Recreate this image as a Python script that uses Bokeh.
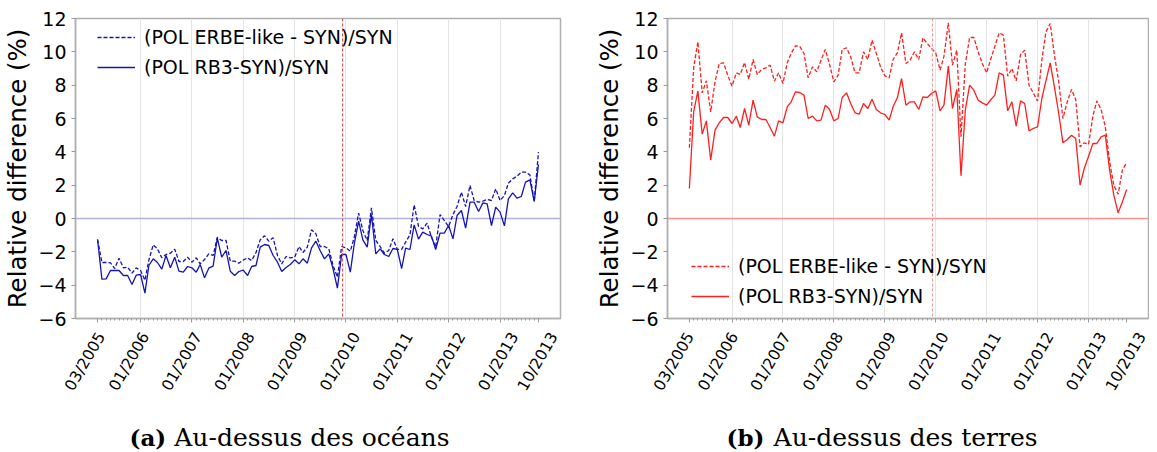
import math
import pandas as pd
from bokeh.plotting import figure
from bokeh.models import (ColumnDataSource, FixedTicker, Span, Legend, LegendItem, Range1d,
                          CustomLabelingPolicy)
from bokeh.layouts import row, column
from bokeh.embed import file_html
from bokeh.resources import INLINE
from bokeh.core.properties import value

# ---------------- data ----------------
months = pd.date_range("2005-03-01", "2013-10-01", freq="MS")
tick_labels = ["03/2005", "01/2006", "01/2007", "01/2008", "01/2009",
               "01/2010", "01/2011", "01/2012", "01/2013", "10/2013"]
event_date = "2009-12-08"
y_ticks = [-6, -4, -2, 0, 2, 4, 6, 8, 10, 12]

ocean_erbe = [-1.26, -2.64, -2.64, -2.66, -3.0, -2.38, -2.96, -2.92, -3.28, -2.96,
              -3.12, -3.7, -2.5, -1.58, -1.82, -2.36, -2.16, -2.08, -1.84, -2.58,
              -2.58, -2.32, -2.62, -2.36, -2.72, -2.46, -2.12, -2.22, -1.12, -1.32,
              -1.32, -2.56, -2.56, -2.68, -2.5, -2.36, -2.52, -2.04, -1.28, -1.04,
              -1.36, -1.16, -2.22, -2.72, -2.28, -2.36, -2.32, -1.68, -2.04, -1.72,
              -0.68, -0.92, -1.68, -1.68, -1.82, -2.82, -3.52, -1.68, -1.76, -1.96,
              -1.12, 0.32, -0.72, -1.32, 0.64, -1.32, -1.68, -2.08, -1.92, -1.22,
              -1.85, -1.85, -1.42, -0.98, 0.82, -0.48, -0.62, -0.28, -1.12, -1.72,
              0.24, -0.12, -0.48, 0.24, 0.72, 1.58, 0.72, 1.98, 1.08, 0.98,
              1.04, 1.14, 1.08, 1.78, 1.08, 1.38, 2.12, 2.38, 2.54, 2.78,
              2.78, 2.62, 1.02, 3.98]
ocean_rb3 = [-1.26, -3.64, -3.62, -3.12, -3.12, -3.12, -3.42, -3.42, -3.96, -3.4,
             -3.36, -4.48, -2.82, -2.42, -2.64, -3.04, -2.22, -2.96, -2.32, -3.16,
             -3.22, -2.88, -2.96, -3.22, -2.76, -3.56, -2.98, -2.86, -1.18, -2.32,
             -1.92, -3.16, -3.42, -3.18, -3.1, -3.42, -2.88, -2.82, -1.72, -1.56,
             -1.62, -2.22, -2.62, -3.18, -2.94, -2.76, -2.48, -2.72, -2.42, -2.68,
             -1.76, -1.36, -1.92, -2.42, -2.12, -3.02, -4.18, -2.16, -2.16, -3.22,
             -1.52, -0.16, -1.28, -1.72, 0.24, -2.12, -1.82, -2.16, -2.28, -1.8,
             -1.85, -3.0, -1.78, -1.86, -0.38, -1.24, -0.82, -0.96, -1.06, -1.86,
             -0.88, -0.88, -0.42, -1.22, 0.18, 0.48, -0.58, 0.98, 0.98, 0.42,
             0.94, 0.88, -0.42, 0.68, 0.38, -0.44, 1.18, 1.54, 1.22, 1.32,
             2.18, 2.32, 1.02, 3.24]
land_erbe = [4.24, 9.06, 10.6, 7.54, 8.26, 6.4, 8.2, 9.3, 9.34, 8.6,
             7.94, 8.74, 8.64, 9.36, 8.36, 9.54, 8.64, 8.94, 9.04, 9.2,
             8.24, 8.74, 8.1, 9.34, 9.9, 10.36, 10.34, 9.9, 8.44, 9.1,
             8.8, 9.5, 10.14, 9.26, 8.2, 8.6, 10.14, 10.24, 9.7, 8.74,
             8.74, 10.0, 9.54, 10.7, 9.9, 9.1, 8.56, 8.44, 9.54, 9.94,
             11.14, 9.3, 9.5, 10.0, 9.54, 10.84, 10.5, 10.2, 9.94, 8.9,
             9.74, 11.74, 9.2, 10.1, 4.9, 9.26, 10.86, 10.86, 10.0, 9.3,
             8.74, 9.6, 10.34, 11.14, 11.0, 8.54, 9.0, 8.26, 9.84, 10.1,
             8.0, 7.54, 7.06, 9.5, 11.2, 11.7, 9.8, 8.2, 6.0, 7.0,
             7.74, 7.14, 4.3, 4.54, 4.46, 6.14, 7.06, 6.54, 5.5, 3.4,
             2.0, 1.46, 2.94, 3.34]
land_rb3 = [1.8, 6.4, 7.66, 5.06, 5.86, 3.5, 5.3, 5.74, 6.06, 6.06,
            5.7, 6.14, 5.46, 6.6, 5.6, 7.1, 6.1, 5.94, 5.94, 5.46,
            4.94, 5.86, 5.74, 6.7, 7.0, 7.6, 7.56, 7.4, 6.0, 6.14,
            5.86, 5.9, 6.8, 6.56, 5.86, 6.0, 7.26, 7.54, 6.9, 6.34,
            6.26, 6.9, 6.6, 7.16, 6.54, 6.34, 6.24, 5.9, 6.7, 7.26,
            8.4, 6.8, 7.0, 7.0, 6.54, 7.3, 7.26, 7.5, 7.66, 6.46,
            6.8, 9.14, 6.6, 7.74, 2.56, 6.5, 8.0, 7.7, 7.1, 6.94,
            6.8, 7.14, 7.4, 8.74, 8.6, 6.46, 7.0, 5.54, 7.06, 6.9,
            5.26, 5.4, 5.5, 7.2, 8.26, 9.34, 7.9, 6.3, 4.54, 4.74,
            5.0, 4.8, 2.0, 3.0, 3.74, 4.5, 4.5, 4.9, 5.0, 2.9,
            1.4, 0.34, 1.0, 1.74]

legend_labels = ["(POL ERBE-like - SYN)/SYN", "(POL RB3-SYN)/SYN"]
captions = [("(a)", "Au-dessus des océans"), ("(b)", "Au-dessus des terres")]

# ---------------- helpers ----------------
def ms(ts):
    return float(pd.Timestamp(ts).value // 10**6)

tick_dates = pd.to_datetime(tick_labels, format="%m/%Y")
tick_ms = [ms(t) for t in tick_dates]
jan_ms = [t for t, lab in zip(tick_ms, tick_labels) if lab.startswith("01/")]
minor_ms = [ms(m) for m in months]
span_ms = ms(months[-1]) - ms(months[0])
x_start = ms(months[0]) - 0.05 * span_ms
x_end = ms(months[-1]) + 0.05 * span_ms

FONT = "DejaVu Sans"
TOP = 18
MAIN_H = TOP + 300 + 10
LOW_H = 452 - MAIN_H


def make_panel(erbe, rb3, color, zero_color, event_color, width, bl, br,
               legend_loc, caption, cap_pos):
    src = ColumnDataSource(dict(date=months, erbe=erbe, rb3=rb3))
    p = figure(width=width, height=MAIN_H, x_axis_type="datetime",
               x_range=Range1d(x_start, x_end), y_range=Range1d(-6, 12),
               output_backend="svg", toolbar_location=None,
               min_border_left=bl, min_border_right=br,
               min_border_top=TOP, min_border_bottom=10,
               background_fill_color="white", border_fill_color="white")
    p.outline_line_color = "#b0b0b0"
    p.outline_line_width = 1.5

    # x axis: ticks only; the labels are drawn (centred) in the strip below
    p.xaxis.ticker = FixedTicker(ticks=tick_ms, minor_ticks=minor_ms)
    p.xaxis.major_label_policy = CustomLabelingPolicy(code="return new Set()")
    p.xaxis.major_label_text_font_size = "0px"
    p.xaxis.major_label_standoff = 0
    p.xaxis.major_tick_out = 4
    p.xaxis.major_tick_in = 0
    p.xaxis.minor_tick_out = 2
    p.xaxis.minor_tick_in = 0

    # y axis
    p.yaxis.ticker = FixedTicker(ticks=y_ticks)
    p.yaxis.major_label_overrides = {v: (str(v) if v >= 0 else "\u2212" + str(-v)) for v in y_ticks}
    p.yaxis.major_label_text_font = FONT
    p.yaxis.major_label_text_font_size = "19px"
    p.yaxis.major_label_text_color = "black"
    p.yaxis.major_tick_out = 4
    p.yaxis.major_tick_in = 0
    p.yaxis.axis_label = "Relative difference (%)"
    p.yaxis.axis_label_text_font = FONT
    p.yaxis.axis_label_text_font_size = "24.5px"
    p.yaxis.axis_label_text_font_style = "normal"
    p.yaxis.axis_label_text_color = "black"
    p.yaxis.axis_label_standoff = 3

    for ax in (p.xaxis, p.yaxis):
        ax.axis_line_color = "#b0b0b0"
        ax.axis_line_width = 1.5
        ax.major_tick_line_color = "#9a9a9a"
        ax.minor_tick_line_color = "#9a9a9a"
    p.yaxis.minor_tick_line_color = None

    p.ygrid.visible = False
    p.xgrid.ticker = FixedTicker(ticks=jan_ms)
    p.xgrid.grid_line_color = "#e4e4e4"
    p.xgrid.grid_line_width = 1

    p.add_layout(Span(location=0, dimension="width", line_color=zero_color,
                      line_width=1.5, level="underlay"))
    p.add_layout(Span(location=ms(event_date), dimension="height", line_color=event_color,
                      line_width=1, line_dash="3 2"))

    r1 = p.line("date", "erbe", source=src, line_color=color, line_width=1.3,
                line_dash="4 2")
    r2 = p.line("date", "rb3", source=src, line_color=color, line_width=1.3)

    legend = Legend(items=[LegendItem(label=legend_labels[0], renderers=[r1]),
                           LegendItem(label=legend_labels[1], renderers=[r2])],
                    location=legend_loc, orientation="vertical",
                    glyph_width=38, glyph_height=30, label_height=30,
                    label_standoff=9, spacing=0, padding=0, margin=0,
                    border_line_color=None, background_fill_alpha=0,
                    label_text_font=FONT, label_text_font_size="19px",
                    label_text_color="black")
    p.add_layout(legend)

    # strip below: tick labels + caption, same time scale as the panel above
    frame_w = width - bl - br
    low = figure(width=width, height=LOW_H, output_backend="svg",
                 toolbar_location=None, x_axis_location=None, y_axis_location=None,
                 min_border_left=0, min_border_right=0,
                 min_border_top=0, min_border_bottom=0,
                 outline_line_color=None, background_fill_color="white",
                 border_fill_color="white")
    can_unalign = "frame_align" in p.properties()
    if can_unalign:
        p.frame_align = False
        low.frame_align = False
        ms_per_px = (x_end - x_start) / frame_w
        low.x_range = Range1d(x_start - bl * ms_per_px, x_end + br * ms_per_px)
        low.extra_x_ranges = {"cap": Range1d(-bl, width - bl)}
    else:
        low.x_range = p.x_range
        low.extra_x_ranges = {"cap": Range1d(0, frame_w)}
    low.y_range = Range1d(-LOW_H, 0)
    low.grid.visible = False

    tsrc = ColumnDataSource(dict(date=tick_dates, label=tick_labels))
    low.text(x="date", y=-33, text="label", source=tsrc, angle=math.pi / 3,
             text_align="center", text_baseline="middle",
             text_font=value(FONT), text_font_size="15.5px", text_color="black")
    bold, rest = caption
    low.text(x=[cap_pos[0]], y=[-108.5], text=[bold], x_range_name="cap",
             text_font=value("DejaVu Serif"), text_font_style="bold",
             text_font_size="23px", text_baseline="middle", text_align="left",
             text_color="black")
    low.text(x=[cap_pos[1]], y=[-108.5], text=[rest], x_range_name="cap",
             text_font=value("DejaVu Serif"), text_font_size="25px",
             text_baseline="middle", text_align="right", text_color="black")
    return column(p, low, spacing=0)


c1 = make_panel(ocean_erbe, ocean_rb3, "#1414b4", "#b0b0e8", "#e03a3a",
                592, 62, 32, (22, 236), captions[0], (67, 387))
c2 = make_panel(land_erbe, land_rb3, "#ff1f1f", "#ff9090", "#ee8e8e",
                557, 59, 1, (24, 7), captions[1], (75, 386))

layout = row(c1, c2, spacing=0)
open("out.html", "w").write(file_html(layout, INLINE))
